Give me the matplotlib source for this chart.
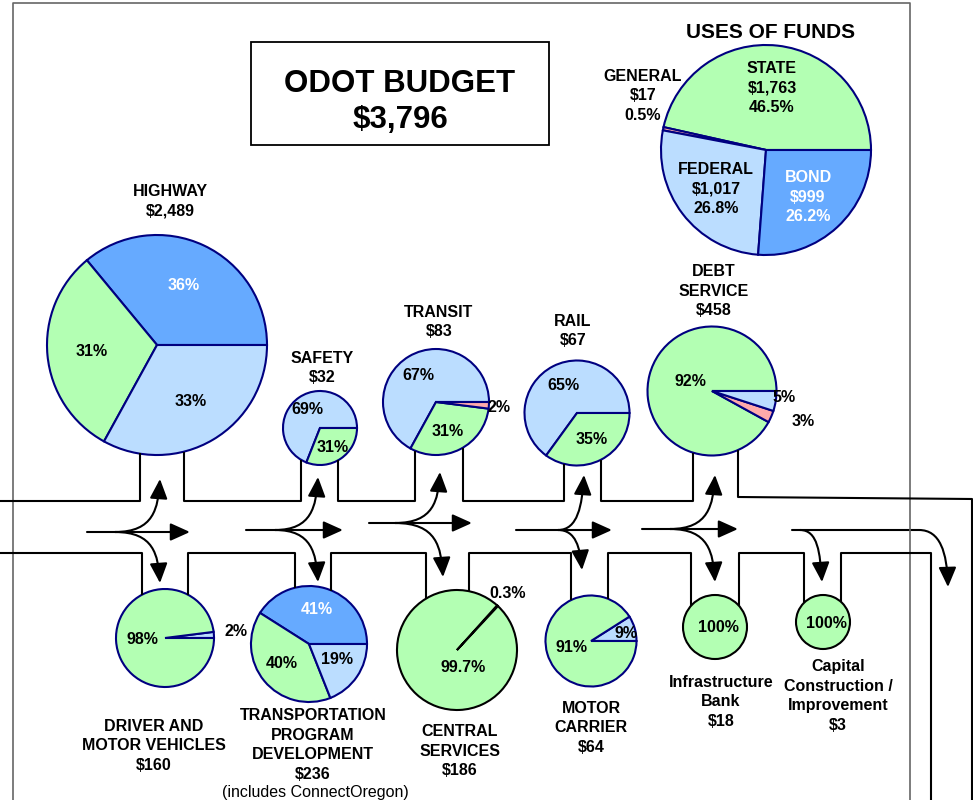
import matplotlib
matplotlib.use("Agg")
import matplotlib.pyplot as plt
from matplotlib.patches import Rectangle, FancyArrowPatch, ArrowStyle
from matplotlib.path import Path

plt.rcParams['font.family'] = ['Liberation Sans', 'DejaVu Sans']

GREEN = '#b3ffb3'   # state
LIGHT = '#bbddff'   # federal
MID = '#66aaff'     # bond
PINK = '#ffaaaa'    # general
NAVY = '#000080'
src_color = {"STATE": GREEN, "FEDERAL": LIGHT, "BOND": MID, "GENERAL": PINK}

# ---- data ----
total_budget = 3796

fund_names = ["STATE", "GENERAL", "FEDERAL", "BOND"]
fund_amounts = [1763, 17, 1017, 999]
fund_shares = [46.5, 0.5, 26.8, 26.2]

prog_names = ["HIGHWAY", "SAFETY", "TRANSIT", "RAIL", "DEBT\nSERVICE",
              "DRIVER AND\nMOTOR VEHICLES",
              "TRANSPORTATION\nPROGRAM\nDEVELOPMENT",
              "CENTRAL\nSERVICES", "MOTOR\nCARRIER",
              "Infrastructure\nBank", "Capital\nConstruction /\nImprovement"]
prog_amounts = [2489, 32, 83, 67, 458, 160, 236, 186, 64, 18, 3]
prog_sources = [["BOND", "STATE", "FEDERAL"],
                ["FEDERAL", "STATE"],
                ["FEDERAL", "STATE", "GENERAL"],
                ["FEDERAL", "STATE"],
                ["STATE", "GENERAL", "FEDERAL"],
                ["FEDERAL", "STATE"],
                ["BOND", "STATE", "FEDERAL"],
                ["FEDERAL", "STATE"],
                ["FEDERAL", "STATE"],
                ["STATE"],
                ["STATE"]]
prog_shares = [[36, 31, 33],
               [69, 31],
               [67, 31, 2],
               [65, 35],
               [92, 3, 5],
               [2, 98],
               [41, 40, 19],
               [0.3, 99.7],
               [9, 91],
               [100],
               [100]]

# ---- layout (pixel coords, y down) ----
# center, radius, start angle, edge colour, name position, percent label positions
layout = [
    ((157, 345), 110, 0, NAVY, (170, 201), [(184, 286), (92, 352), (191, 402)]),
    ((320, 428), 37, 0, NAVY, (322, 368), [(307, 410), (333, 447)]),
    ((436, 402), 53, 0, NAVY, (439, 322), [(418, 375), (448, 432), (499, 407)]),
    ((577, 413), 52.5, 0, NAVY, (573, 331), [(563, 385), (592, 440)]),
    ((712, 391), 64.5, 0, NAVY, (714, 291), [(690, 382), (803, 422), (784, 398)]),
    ((165, 638), 49, 0, NAVY, (154, 746), [(236, 632), (142, 639)]),
    ((309, 644), 58, 0, NAVY, (313, 745), [(317, 610), (282, 664), (337, 660)]),
    ((457, 650), 60, 47, 'black', (460, 751), [(508, 594), (463, 668)]),
    ((591, 641), 45.5, 0, NAVY, (591, 728), [(626, 633), (571, 648)]),
    ((715, 627), 32, 0, 'black', (721, 702), [(718, 628)]),
    ((823, 622), 27, 0, 'black', (838, 696), [(826, 623)]),
]

fig = plt.figure(figsize=(9.73, 8), dpi=100)
ax = fig.add_axes([0, 0, 1, 1])

FS = 11.5
LS = 1.38


def draw_pie(vals, colors, center, r, start, edge):
    # y axis is inverted, so clockwise in data = counter-clockwise on screen
    ax.pie(vals, colors=colors, center=center, radius=r, startangle=-start,
           counterclock=False, frame=True,
           wedgeprops=dict(edgecolor=edge, linewidth=1.5))


# page frame
ax.plot([13, 13, 910, 910], [800, 3, 3, 800], color='#666666', lw=1.2)

# title box
ax.add_patch(Rectangle((251, 42), 298, 103, fill=False, ec='black', lw=1.3))
ax.text(400, 102, f"ODOT BUDGET\n${total_budget:,}", ha='center', va='center',
        fontsize=22.5, fontweight='bold', linespacing=1.3)

# uses of funds pie
draw_pie(fund_shares, [src_color[n] for n in fund_names], (766, 150), 105, 0, NAVY)
ax.text(771, 33, "USES OF FUNDS", ha='center', va='center', fontsize=15,
        fontweight='bold')
fund_pos = [(772, 88), (643, 96), (716, 189), (808, 197)]
for n, a, s, (x, y) in zip(fund_names, fund_amounts, fund_shares, fund_pos):
    ax.text(x, y, f"{n}\n${a:,}\n{s}%", ha='center', va='center', fontsize=FS,
            fontweight='bold', linespacing=LS,
            color='white' if n == "BOND" else 'black')

# pipes
pipe_kw = dict(color='black', lw=1.5, solid_capstyle='butt')
upper = [[(0, 501), (140, 501), (140, 453)],
         [(184, 452), (184, 501), (301, 501), (301, 460)],
         [(338, 460), (338, 501), (415, 501), (415, 451)],
         [(463, 448), (463, 501), (564, 501), (564, 464)],
         [(601, 460), (601, 501), (693, 501), (693, 453)],
         [(738, 450), (738, 497), (972, 499), (972, 800)]]
lower = [[(0, 553), (142, 553), (142, 595)],
         [(188, 595), (188, 553), (295, 553), (295, 588)],
         [(331, 591), (331, 553), (426, 553), (426, 599)],
         [(469, 591), (469, 553), (571, 553), (571, 600)],
         [(608, 599), (608, 553), (691, 553), (691, 606)],
         [(739, 606), (739, 553), (804, 553), (804, 603)],
         [(841, 602), (841, 553), (931, 553), (931, 800)]]
for seg in upper + lower:
    xs, ys = zip(*seg)
    ax.plot(xs, ys, **pipe_kw)

# splitter arrows
head = ArrowStyle('-|>', head_length=0.6, head_width=0.27)


def arrow_path(verts, codes):
    ax.add_patch(FancyArrowPatch(path=Path(verts, codes), arrowstyle=head,
                                 mutation_scale=20, color='black', lw=1.5,
                                 shrinkA=0, shrinkB=0))


def curve(p0, tip, bend):
    (x0, y0), (xt, yt) = p0, tip
    verts = [(x0, y0), (xt - bend, y0), (xt - 2, y0 + (yt - y0) * 0.45), (xt, yt)]
    arrow_path(verts, [Path.MOVETO, Path.CURVE4, Path.CURVE4, Path.CURVE4])


junctions = [
    # y, start x, straight tip, split x, up tip, down tip
    (532, 87, 190, 115, (160, 479), (160, 583)),
    (530, 246, 343, 275, (318, 477), (318, 582)),
    (523, 369, 472, 395, (440, 472), (443, 577)),
    (530, 516, 612, 558, (584, 475), (582, 570)),
    (529, 642, 738, 670, (715, 475), (715, 582)),
]
for y, xs, xe, xsp, up, dn in junctions:
    arrow_path([(xs, y), (xe, y)], [Path.MOVETO, Path.LINETO])
    curve((xsp, y), up, 6)
    curve((xsp, y), dn, 6)

# last junction: line turning down at right, plus a branch
arrow_path([(792, 530), (919, 530), (940, 530), (947, 552), (948, 587)],
           [Path.MOVETO, Path.LINETO, Path.CURVE4, Path.CURVE4, Path.CURVE4])
curve((800, 530), (822, 582), 4)

# program pies
for name, amt, srcs, vals, lay in zip(prog_names, prog_amounts, prog_sources,
                                      prog_shares, layout):
    center, r, start, edge, npos, ppos = lay
    draw_pie(vals, [src_color[s] for s in srcs], center, r, start, edge)
    ax.text(npos[0], npos[1], f"{name}\n${amt:,}", ha='center', va='center',
            fontsize=FS, fontweight='bold', linespacing=LS)
    for v, s, (px, py) in zip(vals, srcs, ppos):
        ax.text(px, py, f"{v:g}%", ha='center', va='center', fontsize=FS,
                fontweight='bold', color='white' if s == "BOND" else 'black')

ax.text(315, 793, "(includes ConnectOregon)", ha='center', va='center',
        fontsize=11.5)

ax.set_xlim(0, 973)
ax.set_ylim(800, 0)
ax.set_aspect('equal')
ax.axis('off')

fig.savefig("out.png", dpi=100)
